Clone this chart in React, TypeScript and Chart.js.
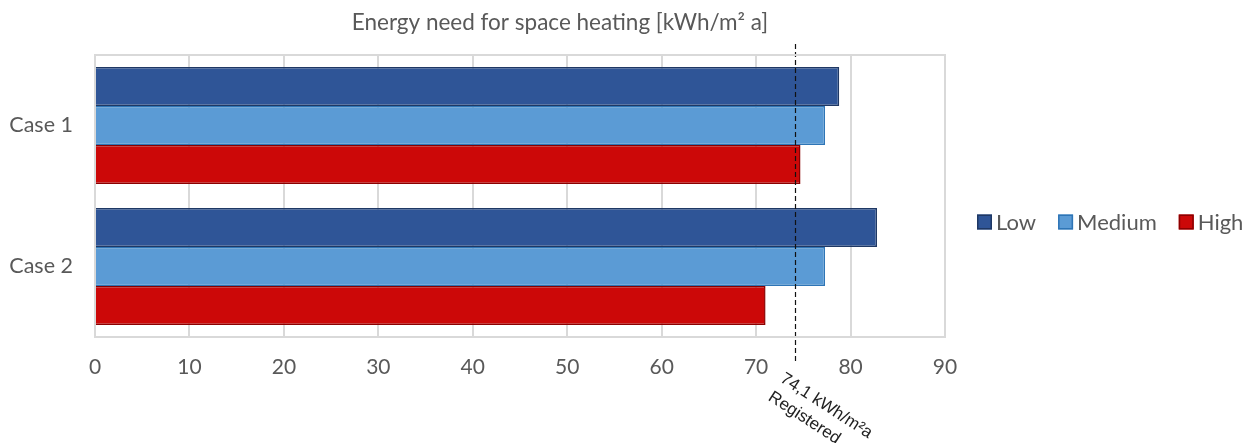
import React, { useEffect, useRef } from "react";
import { Chart, registerables } from "chart.js";

Chart.register(...registerables);

const categories = ["Case 1", "Case 2"];
const seriesNames = ["Low", "Medium", "High"];
const lowValues = [78.8, 82.8];
const mediumValues = [77.3, 77.3];
const highValues = [74.7, 71.0];
const xTicks = [0, 10, 20, 30, 40, 50, 60, 70, 80, 90];
const registeredValue = 74.1;
const registeredLabel = ["74,1 kWh/m²a", "Registered"];
const titleText = "Energy need for space heating [kWh/m² a]";

const fills = ["#2F5597", "#5B9BD5", "#CC0808"];
const borders = ["#1F3864", "#2E75B6", "#8B0000"];
const textGrey = "#595959";
const gridGrey = "#D9D9D9";
const uiFont = "Lato, 'Open Sans', sans-serif";

const overlayPlugin = {
  id: "overlay",
  afterDraw(chart: any) {
    const ctx = chart.ctx;
    const xs = chart.scales.x;
    const area = chart.chartArea;

    // title
    ctx.save();
    ctx.fillStyle = textGrey;
    ctx.font = `22.5px ${uiFont}`;
    ctx.textAlign = "center";
    ctx.textBaseline = "middle";
    ctx.fillText(titleText, 560, 23);
    ctx.restore();

    // registered reference line
    const px = Math.round(xs.getPixelForValue(registeredValue)) + 0.5;
    ctx.save();
    ctx.strokeStyle = "#111";
    ctx.lineWidth = 1.2;
    ctx.setLineDash([5, 3]);
    ctx.beginPath();
    ctx.moveTo(px, 44);
    ctx.lineTo(px, 362);
    ctx.stroke();
    ctx.restore();

    // rotated annotation
    ctx.save();
    ctx.translate(px - 9, 370);
    ctx.rotate((33 * Math.PI) / 180);
    ctx.fillStyle = "#222";
    ctx.font = "17px 'Liberation Sans', Arial, sans-serif";
    ctx.textAlign = "left";
    ctx.textBaseline = "top";
    ctx.fillText(registeredLabel[0], 0, 0);
    ctx.fillText(registeredLabel[1], 0, 22);
    ctx.restore();

    // legend
    ctx.save();
    ctx.font = `22px ${uiFont}`;
    ctx.textBaseline = "middle";
    let lx = 977;
    const ly = 222;
    seriesNames.forEach((name, i) => {
      ctx.fillStyle = fills[i];
      ctx.fillRect(lx, ly - 7.5, 15, 15);
      ctx.strokeStyle = borders[i];
      ctx.lineWidth = 1.5;
      ctx.strokeRect(lx + 0.75, ly - 6.75, 13.5, 13.5);
      ctx.fillStyle = textGrey;
      ctx.textAlign = "left";
      ctx.fillText(name, lx + 19, ly + 1);
      lx += 19 + ctx.measureText(name).width + 22;
    });
    ctx.restore();

    // plot frame
    ctx.save();
    ctx.strokeStyle = gridGrey;
    ctx.lineWidth = 2;
    ctx.strokeRect(area.left, area.top, area.right - area.left, area.bottom - area.top);
    ctx.restore();
  },
};

export default function App() {
  const ref = useRef<HTMLCanvasElement | null>(null);

  useEffect(() => {
    document.body.style.margin = "0";
    const canvas = ref.current;
    if (!canvas) return;
    const values = [lowValues, mediumValues, highValues];
    const chart = new Chart(canvas, {
      type: "bar",
      data: {
        labels: categories,
        datasets: seriesNames.map((name, i) => ({
          label: name,
          data: values[i],
          backgroundColor: fills[i],
          borderColor: borders[i],
          borderWidth: 1.5,
          borderSkipped: "left",
          categoryPercentage: 0.83,
          barPercentage: 1,
        })),
      },
      options: {
        indexAxis: "y",
        animation: false,
        responsive: false,
        maintainAspectRatio: false,
        layout: { padding: { top: 55, right: 301, left: 0, bottom: 0 } },
        plugins: {
          legend: { display: false },
          title: { display: false },
          tooltip: { enabled: false },
        },
        scales: {
          x: {
            min: 0,
            max: 90,
            afterBuildTicks(scale: any) {
              scale.ticks = xTicks.map((v) => ({ value: v }));
            },
            afterFit(scale: any) {
              scale.height = 106;
            },
            ticks: {
              color: textGrey,
              font: { size: 21, family: uiFont },
              padding: 18,
            },
            grid: { color: gridGrey, lineWidth: 2, drawTicks: false },
            border: { display: false },
          },
          y: {
            afterFit(scale: any) {
              scale.width = 95;
            },
            ticks: {
              color: textGrey,
              font: { size: 21.5, family: uiFont },
              padding: 22,
            },
            grid: { display: false, drawTicks: false },
            border: { display: false },
          },
        },
      },
      plugins: [overlayPlugin],
    });
    return () => chart.destroy();
  }, []);

  return (
    <div style={{ width: 1246, height: 443 }}>
      <canvas ref={ref} width={1246} height={443} style={{ display: "block" }} />
    </div>
  );
}
